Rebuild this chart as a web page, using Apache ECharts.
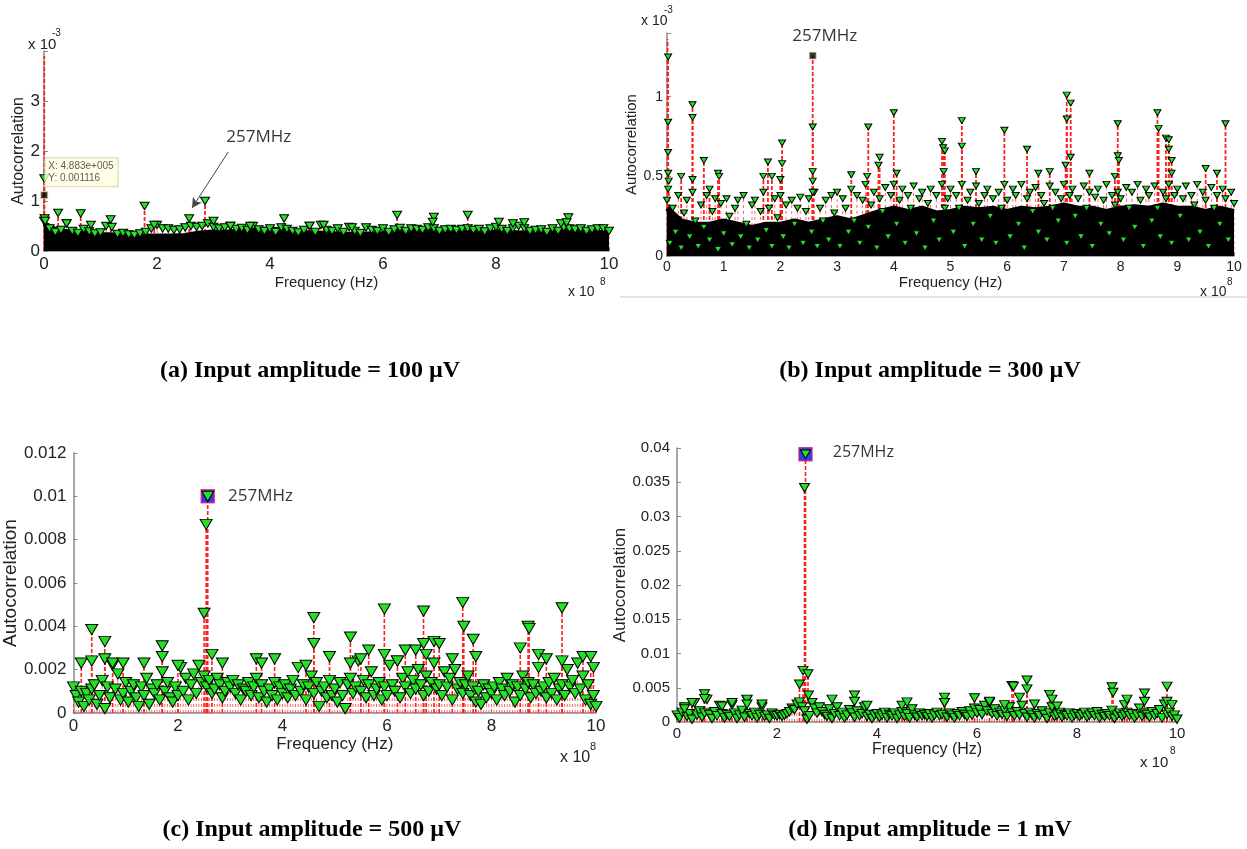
<!DOCTYPE html>
<html><head><meta charset="utf-8">
<script src="https://cdn.jsdelivr.net/npm/echarts/dist/echarts.min.js"></script>
<style>html,body{margin:0;padding:0;background:#fff}#c{width:1247px;height:849px}</style>
</head><body><div id="c"></div>
<script>
// ---------------- DATA (frequency in units of 1e8 Hz) ----------------
// Panel (a): values in units of 1e-3
const envStepA = 0.25;
const envA = [0.55,0.4,0.38,0.36,0.33,0.32,0.33,0.3,0.3,0.3,0.31,0.36,0.38,0.38,0.4,0.42,0.44,0.42,0.38,0.36,0.35,0.34,0.33,0.34,0.35,0.38,0.39,0.4,0.38,0.37,0.38,0.38,0.38,0.37,0.36,0.38,0.38,0.4,0.4,0.38,0.36];
const noiseStepA = 0.1;
const noiseA = [0.6,0.45,0.38,0.42,0.55,0.4,0.36,0.44,0.39,0.35,
 0.37,0.5,0.48,0.34,0.36,0.33,0.32,0.35,0.38,0.45,
 0.52,0.45,0.45,0.42,0.43,0.47,0.5,0.48,0.5,0.55,
 0.48,0.45,0.47,0.5,0.44,0.46,0.42,0.5,0.43,0.4,
 0.45,0.38,0.47,0.44,0.4,0.37,0.42,0.5,0.38,0.52,
 0.42,0.4,0.45,0.38,0.48,0.4,0.36,0.47,0.42,0.4,
 0.45,0.38,0.43,0.46,0.4,0.45,0.44,0.42,0.47,0.45,
 0.4,0.43,0.44,0.42,0.44,0.45,0.42,0.44,0.39,0.45,
 0.48,0.44,0.4,0.45,0.5,0.45,0.4,0.42,0.43,0.38,
 0.45,0.4,0.47,0.45,0.43,0.45,0.4,0.43,0.45,0.45,0.4];
const peaksA = [[0.005,1.45],[0.01,0.65],[0.02,0.6],[0.25,0.76],[0.4,0.55],[0.65,0.75],[0.83,0.52],[1.18,0.63],[1.78,0.9],[1.95,0.52],[2.57,0.65],[2.85,1.0],[3.0,0.6],[3.3,0.5],[3.65,0.5],[4.25,0.65],[4.7,0.5],[4.95,0.52],[5.45,0.47],[6.25,0.72],[6.9,0.68],[6.88,0.58],[7.5,0.72],[8.05,0.58],[8.3,0.55],[8.5,0.57],[9.15,0.55],[9.28,0.67],[9.25,0.57]];
const stemOnlyA = [[0.005,3.9]];
const cursorA = [0.004883,1.116];
const labelPosA = [3.8,2.28];
const arrowA = [[3.26,1.98],[2.62,0.86]];

// Panel (b): values in units of 1e-3
const envStepB = 0.25;
const envB = [0.3,0.22,0.2,0.2,0.22,0.2,0.18,0.2,0.2,0.22,0.2,0.22,0.24,0.22,0.25,0.28,0.3,0.28,0.3,0.27,0.28,0.3,0.29,0.3,0.28,0.3,0.29,0.3,0.32,0.3,0.3,0.28,0.3,0.31,0.3,0.32,0.3,0.3,0.28,0.3,0.28];
const noiseStepB = 0.05;
const noiseB = [0.35,0.08,0.3,0.15,0.38,0.05,0.27,0.35,0.12,0.4,0.22,0.06,0.32,0.18,0.38,0.1,0.28,0.36,0.04,0.33,
 0.14,0.36,0.25,0.07,0.3,0.35,0.12,0.38,0.2,0.05,0.32,0.35,0.1,0.28,0.4,0.16,0.3,0.06,0.36,0.24,
 0.38,0.12,0.32,0.05,0.35,0.2,0.3,0.37,0.08,0.28,0.36,0.15,0.4,0.06,0.3,0.22,0.35,0.1,0.38,0.27,
 0.4,0.06,0.36,0.3,0.15,0.42,0.22,0.38,0.08,0.35,0.45,0.18,0.32,0.4,0.05,0.36,0.28,0.43,0.12,0.38,
 0.45,0.2,0.35,0.42,0.08,0.38,0.3,0.44,0.14,0.36,0.4,0.05,0.33,0.42,0.22,0.38,0.1,0.45,0.3,0.36,
 0.42,0.15,0.38,0.3,0.45,0.06,0.35,0.4,0.2,0.44,0.33,0.1,0.38,0.42,0.25,0.36,0.08,0.4,0.3,0.45,
 0.35,0.12,0.42,0.38,0.2,0.45,0.05,0.36,0.4,0.28,0.43,0.15,0.38,0.33,0.1,0.44,0.3,0.4,0.22,0.36,
 0.45,0.08,0.38,0.42,0.25,0.36,0.12,0.44,0.3,0.4,0.06,0.37,0.42,0.2,0.35,0.45,0.14,0.38,0.32,0.4,
 0.36,0.1,0.43,0.3,0.4,0.18,0.45,0.35,0.06,0.42,0.38,0.22,0.44,0.3,0.12,0.4,0.36,0.45,0.08,0.38,
 0.42,0.25,0.36,0.44,0.1,0.38,0.32,0.45,0.15,0.4,0.35,0.06,0.43,0.3,0.38,0.2,0.42,0.36,0.1,0.4,0.33];
const peaksB = [[0.02,1.25],[0.02,0.84],[0.02,0.65],[0.02,0.52],[0.03,0.47],[0.02,0.42],[0.25,0.5],[0.45,0.95],[0.45,0.87],[0.45,0.48],[0.65,0.6],[0.75,0.42],[0.9,0.52],[0.92,0.5],[1.7,0.5],[1.78,0.59],[1.85,0.5],[2.03,0.71],[2.03,0.58],[2.0,0.48],[2.57,0.81],[2.57,0.53],[2.57,0.47],[2.57,0.4],[3.25,0.51],[3.55,0.81],[3.53,0.5],[3.75,0.62],[3.73,0.57],[4.0,0.9],[4.05,0.52],[4.85,0.72],[4.87,0.68],[4.9,0.66],[4.88,0.53],[5.2,0.85],[5.2,0.69],[5.45,0.53],[5.95,0.79],[6.35,0.67],[6.55,0.52],[6.75,0.53],[7.05,1.01],[7.05,0.86],[7.03,0.57],[7.12,0.96],[7.12,0.62],[7.45,0.52],[7.95,0.83],[7.95,0.63],[7.97,0.6],[7.9,0.5],[8.65,0.9],[8.67,0.8],[8.8,0.74],[8.85,0.73],[8.85,0.67],[8.9,0.6],[8.9,0.52],[9.5,0.55],[9.7,0.52],[9.85,0.83]];
const stemOnlyB = [[0.01,1.36],[2.57,1.258]];
const markB = [2.57,1.258];

// Panel (c): values in units of 1e-3 (converted below)
const noiseStepC = 0.05;
const noiseC = [1.2,0.8,0.5,1.0,0.3,0.9,0.6,1.1,1.3,0.4,0.8,1.5,0.2,1.2,0.7,2.2,1.1,1.8,0.6,0.9,
 1.4,0.5,1.0,1.3,0.7,0.3,1.2,0.8,1.6,0.4,1.1,0.9,1.3,0.6,1.9,1.0,1.4,0.7,0.5,1.2,
 0.8,2.1,1.0,1.6,0.6,1.3,1.8,0.9,2.2,1.4,1.7,1.2,1.5,0.9,1.1,1.6,1.3,0.7,1.0,1.4,
 1.2,1.5,0.9,1.3,0.6,1.1,1.0,1.4,0.8,1.2,1.6,0.7,1.3,1.0,0.5,1.1,0.8,1.4,0.6,1.2,
 0.9,1.3,0.7,1.1,1.5,0.8,2.1,1.0,1.3,0.6,1.2,1.7,0.9,1.4,0.3,1.0,1.2,0.7,1.5,0.8,
 1.1,0.5,1.4,0.8,0.2,1.3,1.6,0.9,1.2,2.4,1.0,1.5,0.7,1.3,1.9,0.8,1.1,1.4,0.6,1.2,
 0.8,2.2,1.3,1.0,2.4,0.7,1.6,1.2,1.9,0.9,1.5,1.1,2.0,1.3,0.8,1.7,1.0,1.4,2.3,1.1,
 1.3,0.8,1.9,1.2,1.6,0.6,2.0,1.1,1.4,0.9,1.3,1.7,0.8,1.2,0.5,1.0,0.4,1.3,0.7,1.1,
 0.9,1.2,0.6,1.4,1.1,0.8,1.6,1.0,1.3,0.5,1.2,0.8,1.7,1.1,1.4,0.7,1.3,0.9,2.1,1.0,
 1.2,0.7,1.4,0.9,1.6,0.6,1.1,1.3,0.8,2.0,1.2,1.5,0.9,2.3,1.1,1.7,0.6,1.3,0.4,0.8,0.3];
const peaksC = [[0.15,2.3],[0.35,3.85],[0.35,2.4],[0.6,3.3],[0.6,2.5],[0.75,2.3],[0.95,2.3],[1.35,2.3],[1.7,3.1],[1.7,2.6],[2.0,2.2],[2.5,4.6],[2.54,8.7],[2.57,10.0],[2.65,2.7],[2.85,2.3],[3.5,2.5],[3.6,2.3],[3.85,2.5],[4.45,2.2],[4.6,4.4],[4.6,3.2],[4.9,2.6],[5.3,3.5],[5.3,2.3],[5.5,2.5],[5.65,2.9],[5.95,4.8],[5.95,2.7],[6.2,2.4],[6.35,2.9],[6.55,2.9],[6.7,4.7],[6.7,3.2],[6.75,2.7],[6.9,3.3],[7.0,3.2],[7.25,2.5],[7.45,5.1],[7.47,4.0],[7.65,3.4],[7.7,2.6],[8.55,3.0],[8.7,4.0],[8.72,3.9],[8.9,2.7],[9.05,2.5],[9.35,4.85],[9.35,2.4],[9.75,2.6],[9.9,2.6],[9.95,2.1]];
const markC = [2.57,10.0];

// Panel (d): values in units of 1e-3 (converted below)
const noiseStepD = 0.05;
const noiseD = [1.0,0.6,1.4,2.2,0.8,1.2,0.4,2.8,1.0,1.6,0.7,1.3,3.3,1.1,0.5,1.5,0.9,2.4,1.2,0.6,
 1.1,0.8,2.5,1.3,0.5,1.0,1.7,0.7,3.2,1.2,0.9,1.4,0.6,1.1,2.2,0.8,1.0,0.5,1.3,1.0,
 0.9,1.1,0.8,1.0,1.2,1.5,2.0,1.8,2.6,2.9,2.2,1.6,0.4,0.9,2.8,2.0,1.3,2.2,1.5,1.1,
 0.8,1.9,0.5,1.2,2.2,0.9,1.4,0.6,1.0,1.8,1.3,0.7,1.6,0.9,1.2,2.2,0.8,1.1,0.5,1.0,
 1.2,0.7,1.0,1.4,0.6,1.1,0.9,1.3,0.5,1.0,1.5,0.8,1.2,0.6,1.9,1.0,0.7,1.3,0.9,1.1,
 0.8,1.2,0.6,1.0,1.4,0.9,1.1,2.8,0.7,1.3,1.0,0.6,1.2,0.9,1.5,1.1,0.8,1.6,1.0,2.0,
 1.3,1.8,1.1,2.4,1.6,2.8,1.2,1.9,0.9,1.4,1.1,1.7,0.8,2.2,1.3,0.9,1.5,1.0,2.4,1.2,
 0.7,1.4,1.0,0.6,1.2,0.9,1.6,1.1,0.5,1.3,2.2,0.8,1.0,1.4,0.7,1.1,0.9,1.3,0.6,1.0,
 1.2,0.8,1.1,1.4,0.7,1.0,1.3,0.9,1.5,0.6,1.1,0.8,1.2,0.9,1.7,0.5,1.0,1.3,0.8,1.1,
 1.4,0.9,1.2,0.6,1.0,2.0,0.8,1.3,1.1,0.7,1.5,0.9,1.2,1.8,0.6,2.6,1.1,1.4,0.8,1.0,0.4];
const peaksD = [[0.15,1.9],[0.3,2.8],[0.55,4.1],[0.55,3.4],[0.9,2.3],[1.1,2.8],[1.4,3.3],[1.4,2.6],[1.7,2.6],[2.45,5.5],[2.52,7.5],[2.55,34.2],[2.57,39.1],[2.62,7.0],[2.63,3.9],[3.1,3.3],[3.55,3.9],[3.55,3.0],[3.8,2.4],[4.5,2.4],[4.6,2.9],[5.35,3.6],[5.35,2.8],[5.95,3.5],[6.25,3.0],[6.55,2.5],[6.7,5.3],[6.73,5.2],[6.85,3.6],[7.0,6.1],[7.0,4.8],[7.15,2.6],[7.45,4.0],[7.5,3.3],[7.6,2.3],[8.7,5.1],[8.72,4.3],[8.95,2.5],[9.0,3.3],[9.35,4.2],[9.35,3.0],[9.8,5.2],[9.8,3.0],[9.9,2.5]];
const markD = [2.57,39.1];

const peakLabel = '257MHz';
const captions = ['(a) Input amplitude = 100 µV','(b) Input amplitude = 300 µV','(c) Input amplitude = 500 µV','(d) Input amplitude = 1 mV'];
const xName = 'Frequency (Hz)';
const yName = 'Autocorrelation';

// ---------------- BUILD ----------------
const MILLI = 1e-3;
function grid(step, arr, scale){ return arr.map((v,i)=>[+(i*step).toFixed(4), v*(scale||1)]); }
function sc(arr, scale){ return arr.map(p=>[p[0], p[1]*scale]); }

const pts = [
  {noise: grid(noiseStepA, noiseA), peaks: peaksA, stemOnly: stemOnlyA, env: grid(envStepA, envA)},
  {noise: grid(noiseStepB, noiseB), peaks: peaksB, stemOnly: stemOnlyB, env: grid(envStepB, envB)},
  {noise: grid(noiseStepC, noiseC, MILLI), peaks: sc(peaksC, MILLI), stemOnly: [], env: null},
  {noise: grid(noiseStepD, noiseD, MILLI), peaks: sc(peaksD, MILLI), stemOnly: [], env: null}
];

const layout = [
  {grid:{left:44,top:51,width:565,height:200}, xInt:2, yMax:4, yInt:1, fmt:v=> v>3.5?'':String(v), fs:17, nfs:15, ynfs:16, nameGapX:24, nameGapY:16, sym:9, lblMargin:5, ylMargin:4},
  {grid:{left:667,top:33,width:567,height:223}, xInt:1, yMax:1.4, yInt:0.5, fmt:v=> v>1.01?'':String(v), fs:14, nfs:15, ynfs:15, nameGapX:19, nameGapY:27, sym:7, lblMargin:4, ylMargin:4},
  {grid:{left:71,top:453,width:525,height:260}, xInt:2, yMax:0.012, yInt:0.002, fmt:v=>String(+v.toFixed(3)), fs:17, nfs:17, ynfs:19, nameGapX:22, nameGapY:50, sym:12, lblMargin:5, ylMargin:7},
  {grid:{left:677,top:448,width:500,height:274}, xInt:2, yMax:0.04, yInt:0.005, fmt:v=>String(+v.toFixed(3)), fs:15, nfs:16, ynfs:17, nameGapX:18, nameGapY:46, sym:10, lblMargin:4, ylMargin:7}
];

const AX = '#8a8a8a', TXT = '#222', FONT = 'Liberation Sans, Arial, sans-serif';
const grids=[], xAxes=[], yAxes=[], series=[];
const GREEN = '#25e025', RED = '#ff1f1f';

function stemSeries(i, data, width, dash, opacity, z){
  return {type:'custom', xAxisIndex:i, yAxisIndex:i, data:data, z:z, silent:true, animation:false,
    encode:{x:0,y:1},
    renderItem:function(params, api){
      const x=api.value(0), y=api.value(1);
      const p0=api.coord([x,0]), p1=api.coord([x,y]);
      return {type:'line', shape:{x1:p0[0],y1:p0[1],x2:p1[0],y2:p1[1]},
        style:{stroke:RED, lineWidth:width, lineDash:dash, opacity:opacity}};
    }};
}

layout.forEach((L,i)=>{
  grids.push(L.grid);
  xAxes.push({type:'value', gridIndex:i, min:0, max:10, interval:L.xInt,
    name:xName, nameLocation:'middle', nameGap:L.nameGapX,
    nameTextStyle:{color:TXT, fontSize:L.nfs, fontFamily:FONT},
    axisLine:{show:true, onZero:false, lineStyle:{color:AX, width:1.5}},
    axisTick:{show:true, inside:true, length:4, lineStyle:{color:AX}},
    axisLabel:{color:TXT, fontSize:L.fs, fontFamily:FONT, margin:L.lblMargin},
    splitLine:{show:false}});
  yAxes.push({type:'value', gridIndex:i, min:0, max:L.yMax, interval:L.yInt,
    name:yName, nameLocation:'middle', nameGap:L.nameGapY, nameRotate:90,
    nameTextStyle:{color:TXT, fontSize:L.ynfs, fontFamily:FONT},
    axisLine:{show:true, lineStyle:{color:AX, width:1.5}},
    axisTick:{show:true, inside:true, length:4, lineStyle:{color:AX}},
    axisLabel:{color:TXT, fontSize:L.fs, fontFamily:FONT, margin:L.ylMargin, formatter:L.fmt},
    splitLine:{show:false}});
  const P = pts[i];
  // thin stems under the noise floor
  series.push(stemSeries(i, P.noise, 0.9, [3,3], 0.75, 1));
  // stems of the rising peaks
  series.push(stemSeries(i, P.peaks.concat(P.stemOnly), i>=2?1.6:1.8, [4,2], 1, 2));
  if (P.env) {
    series.push({type:'line', xAxisIndex:i, yAxisIndex:i, data:P.env, symbol:'none', silent:true,
      lineStyle:{color:'#000', width:5}, areaStyle:{color:'#000', opacity:1, origin:'start'}, z:3, animation:false});
  }
  series.push({type:'scatter', xAxisIndex:i, yAxisIndex:i, data:P.noise.concat(P.peaks), z:5, silent:true, animation:false,
    symbol:'triangle', symbolRotate:180, symbolSize:[L.sym, L.sym*0.85],
    itemStyle:{color:GREEN, borderColor:'#000', borderWidth:1, opacity:1}});
});

// Panel (a) cursor with datatip, and arrow annotation
series.push({type:'scatter', xAxisIndex:0, yAxisIndex:0, data:[cursorA], z:6, animation:false,
  symbol:'rect', symbolSize:7, itemStyle:{color:'#000', borderColor:'#e8e0a0', borderWidth:1},
  label:{show:true, position:[5,-33], formatter:'X: 4.883e+005\nY: 0.001116', fontSize:10, lineHeight:12,
    color:'#333', fontFamily:FONT, backgroundColor:'#ffffe1', borderColor:'#cfcfa0', borderWidth:1, padding:[2,4,2,3]}});
series.push({type:'scatter', xAxisIndex:0, yAxisIndex:0, data:[labelPosA], z:6, animation:false,
  symbol:'circle', symbolSize:1, itemStyle:{color:'rgba(0,0,0,0)'},
  label:{show:true, position:'inside', formatter:peakLabel, fontSize:17, color:'#000', fontFamily:'Open Sans, sans-serif'},
  markLine:{silent:true, symbol:['none','arrow'], symbolSize:[8,10], animation:false,
    lineStyle:{color:'#444', width:1, type:'solid'}, label:{show:false},
    data:[[{coord:arrowA[0]},{coord:arrowA[1]}]]}});
// Panel (b)
series.push({type:'scatter', xAxisIndex:1, yAxisIndex:1, data:[markB], z:6, animation:false,
  symbol:'rect', symbolSize:7, itemStyle:{color:'#000', borderColor:'#e8e0a0', borderWidth:1},
  label:{show:true, position:'top', distance:7, offset:[12,0], formatter:peakLabel, fontSize:17, color:'#000', fontFamily:'Open Sans, sans-serif'}});
// Panel (c)
series.push({type:'scatter', xAxisIndex:2, yAxisIndex:2, data:[[markC[0], markC[1]*MILLI]], z:4, animation:false,
  symbol:'rect', symbolSize:13, itemStyle:{color:'#0808d8', borderColor:'#e0207f', borderWidth:1.5},
  label:{show:true, position:'right', distance:13, formatter:peakLabel, fontSize:17, color:'#000', fontFamily:'Open Sans, sans-serif'}});
// Panel (d)
series.push({type:'scatter', xAxisIndex:3, yAxisIndex:3, data:[[markD[0], markD[1]*MILLI]], z:4, animation:false,
  symbol:'rect', symbolSize:13, itemStyle:{color:'#0808d8', borderColor:'#c0208f', borderWidth:1.5},
  label:{show:true, position:'right', distance:20, offset:[0,-2], formatter:peakLabel, fontSize:16, color:'#000', fontFamily:'Open Sans, sans-serif'}});

function txt(x,y,s,fs){ return {type:'text', left:x, top:y, silent:true,
  style:{text:s, fontSize:fs, fill:TXT, fontFamily:FONT}}; }
const graphics = [
  txt(28,37,'x 10',15), txt(52,28,'-3',10),
  txt(641,14,'x 10',14), txt(664,5,'-3',10),
  txt(568,285,'x 10',14), txt(600,277,'8',10),
  txt(1200,285,'x 10',14), txt(1227,277,'8',10),
  txt(560,750,'x 10',16), txt(590,741,'8',11),
  txt(1140,755,'x 10',15), txt(1170,746,'8',10),
  {type:'line', silent:true, shape:{x1:620,y1:297,x2:1247,y2:297}, style:{stroke:'#e4e4e4', lineWidth:2}}
];
const capPos = [[310,371],[930,371],[312,830],[930,830]];
captions.forEach((c,k)=>{
  graphics.push({type:'text', x:capPos[k][0], y:capPos[k][1], silent:true,
    style:{text:c, fontSize:24, fontWeight:'bold', fill:'#000', fontFamily:'Liberation Serif, Times New Roman, serif', align:'center', verticalAlign:'middle'}});
});

const chart = echarts.init(document.getElementById('c'), null, {renderer:'canvas'});
chart.setOption({animation:false, backgroundColor:'#fff', grid:grids, xAxis:xAxes, yAxis:yAxes, series:series, graphic:graphics});
</script></body></html>
